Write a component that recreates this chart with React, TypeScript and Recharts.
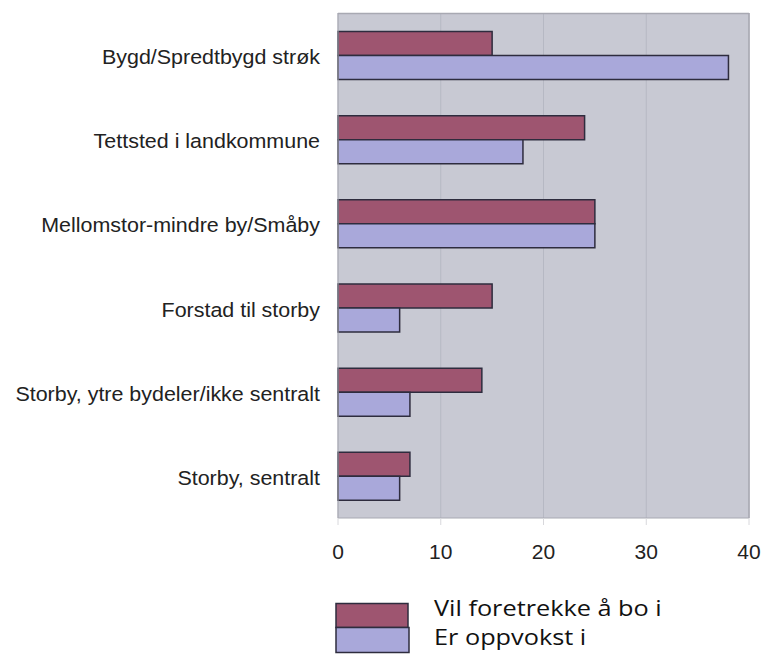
import React from "react";
import { BarChart, Bar, XAxis, YAxis, CartesianGrid } from "recharts";

const categories = [
  "Bygd/Spredtbygd strøk",
  "Tettsted i landkommune",
  "Mellomstor-mindre by/Småby",
  "Forstad til storby",
  "Storby, ytre bydeler/ikke sentralt",
  "Storby, sentralt",
];
const vilForetrekke = [15, 24, 25, 15, 14, 7];
const erOppvokst = [38, 18, 25, 6, 7, 6];
const xTicks = [0, 10, 20, 30, 40];
const seriesNames = ["Vil foretrekke å bo i", "Er oppvokst i"];

const data = categories.map((c, i) => ({
  name: c,
  vil: vilForetrekke[i],
  er: erOppvokst[i],
}));

const RED = "#9E5570";
const BLUE = "#A9A8DA";
const STROKE = "#2E2C3E";

const YTick = (props: any) => {
  const { x, y, payload } = props;
  return (
    <g transform={`translate(${x},${y + 2}) scale(1.1,1)`}>
      <text
        x={0}
        y={0}
        dy="0.355em"
        textAnchor="end"
        fontFamily="'Liberation Sans', Arial, sans-serif"
        fontSize={19.5}
        fill="#222"
      >
        {payload.value}
      </text>
    </g>
  );
};

const legendFont = "'Open Sans', 'Noto Sans', sans-serif";

export default function App() {
  return (
    <div style={{ position: "absolute", left: 0, top: 0, width: 765, height: 656, background: "#fff" }}>
      <BarChart
        width={765}
        height={656}
        data={data}
        layout="vertical"
        margin={{ top: 13, right: 16, left: 0, bottom: 0 }}
        barCategoryGap="22%"
        barGap={0}
      >
        <CartesianGrid
          horizontal={false}
          vertical={true}
          fill="#C8C9D3"
          stroke="#B6B8C3"
          fillOpacity={1}
        />
        <XAxis
          type="number"
          domain={[0, 40]}
          ticks={xTicks}
          height={138}
          axisLine={{ stroke: "#A8A9B2" }}
          tickLine={{ stroke: "#D8D8DC" }}
          tickSize={7}
          tickMargin={19}
          tick={{ fontFamily: "'Liberation Sans', Arial, sans-serif", fontSize: 21, fill: "#222" }}
        />
        <YAxis
          type="category"
          dataKey="name"
          width={338}
          axisLine={{ stroke: "#A8A9B2" }}
          tickLine={false}
          tickMargin={12}
          tick={<YTick />}
          interval={0}
        />
        <Bar dataKey="vil" fill={RED} stroke={STROKE} strokeWidth={1.5} isAnimationActive={false} />
        <Bar dataKey="er" fill={BLUE} stroke={STROKE} strokeWidth={1.5} isAnimationActive={false} />
      </BarChart>
      <div style={{ position: "absolute", left: 0, top: 0, width: 765, height: 656, pointerEvents: "none" }}>
        <svg width={765} height={656} style={{ position: "absolute", left: 0, top: 0 }}>
          <line x1={338} y1={13.5} x2={749} y2={13.5} stroke="#A8A9B2" strokeWidth={1.5} />
          <line x1={749} y1={13} x2={749} y2={518} stroke="#A8A9B2" strokeWidth={1.5} />
          <rect x={336} y={603.5} width={72} height={24} fill={RED} stroke={STROKE} strokeWidth={1.5} />
          <rect x={336} y={627.5} width={73} height={25} fill={BLUE} stroke={STROKE} strokeWidth={1.5} />
          <g transform="translate(434,616) scale(1.15,1)">
            <text x={0} y={0} fontFamily={legendFont} fontSize={22} fill="#111">
              {seriesNames[0]}
            </text>
          </g>
          <g transform="translate(434,644.5) scale(1.15,1)">
            <text x={0} y={0} fontFamily={legendFont} fontSize={22} fill="#111">
              {seriesNames[1]}
            </text>
          </g>
        </svg>
      </div>
    </div>
  );
}
